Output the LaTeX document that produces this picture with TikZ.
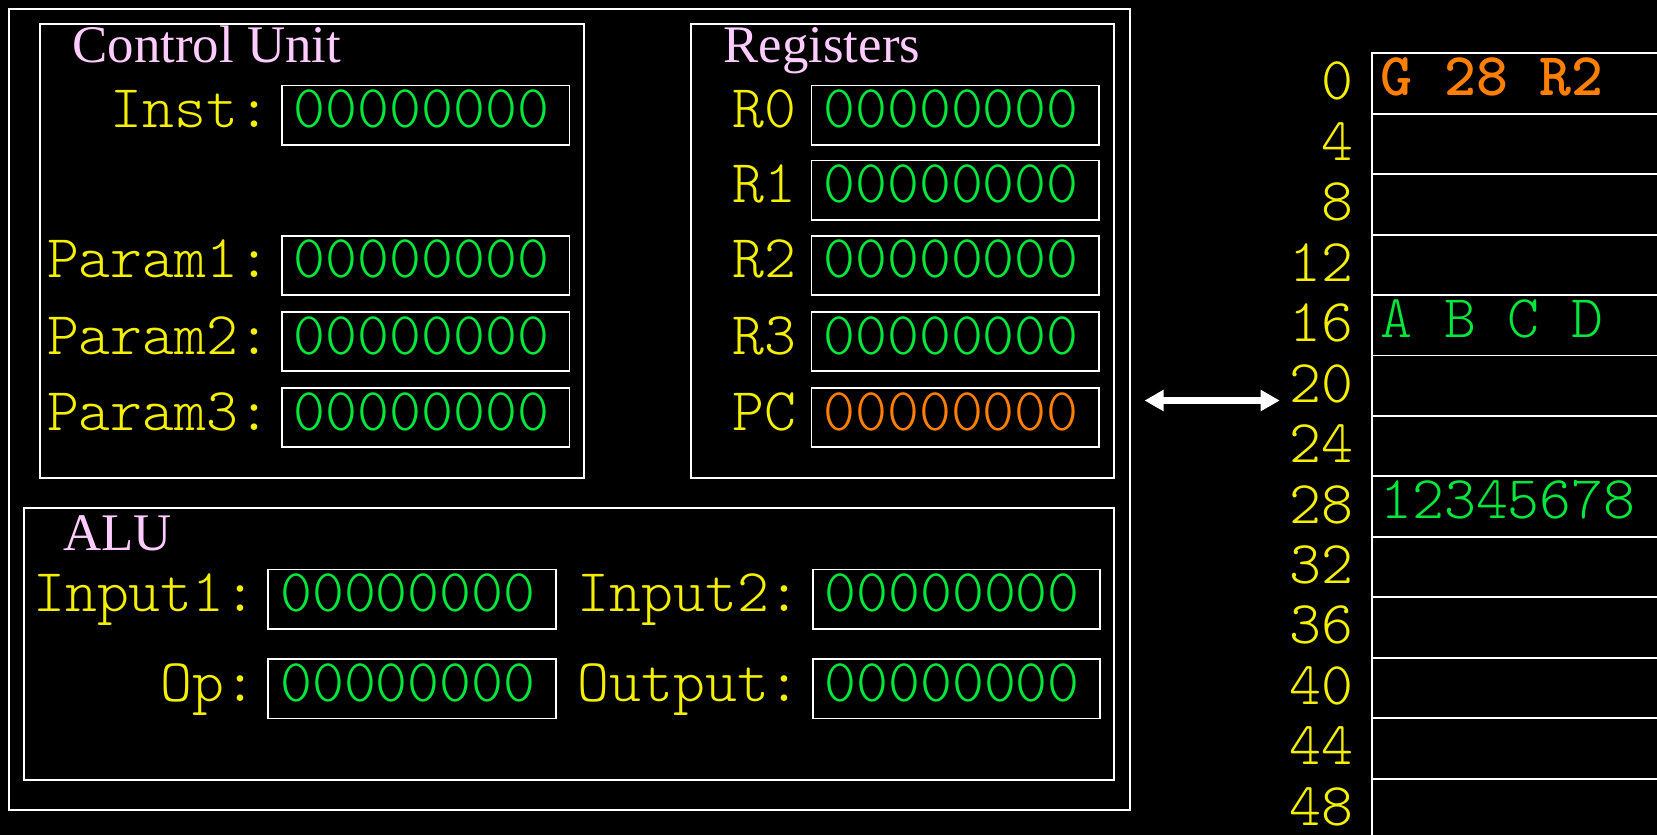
\documentclass[tikz,border=0pt]{standalone}
\usepackage{fontspec}
\setmainfont{Liberation Serif}
\setmonofont{Latin Modern Mono Light}
\usetikzlibrary{arrows.meta}
\definecolor{lblyellow}{RGB}{245,240,0}
\definecolor{valgreen}{RGB}{0,232,60}
\definecolor{valorange}{RGB}{255,128,0}
\definecolor{titlepink}{RGB}{255,204,255}
\newcommand\cpumono{\ttfamily\fontsize{57.5}{60}\selectfont}
\newcommand\cputitle{\rmfamily\fontsize{50}{56}\selectfont}
\begin{document}
\begin{tikzpicture}[x=1pt,y=-1pt,
  frame/.style={draw=white, line width=1.8pt, anchor=north west, inner sep=0pt},
  regbox/.style={draw=white, line width=1.8pt, minimum width=272pt, minimum height=56pt, anchor=north west, inner sep=0pt},
  cell/.style={draw=white, line width=1.8pt, minimum width=320pt, minimum height=57.2pt, anchor=north west, inner sep=0pt},
  lbl/.style={text=lblyellow, font=\cpumono, anchor=base east, inner sep=0pt},
  val/.style={text=valgreen, font=\cpumono, anchor=base west, inner sep=0pt},
  ttl/.style={text=titlepink, font=\cputitle, anchor=base west, inner sep=0pt},
  busarrow/.style={draw=white, line width=6pt, {Triangle[length=18pt,width=19pt]}-{Triangle[length=18pt,width=19pt]}},
]
\fill[black] (0,0) rectangle (1568,790);
\useasboundingbox (0,0) rectangle (1568,790);

% outer CPU frame and sections
\node[frame, minimum width=1060pt, minimum height=758pt] (cpu) at (8,8) {};
\node[frame, minimum width=515pt, minimum height=429pt] (cu) at (37,22) {};
\node[frame, minimum width=400pt, minimum height=429pt] (regs) at (653,22) {};
\node[frame, minimum width=1031pt, minimum height=257pt] (alu) at (22,480) {};

\node[ttl] (cutitle) at (68.5,59) {Control Unit};
\node[ttl] (regtitle) at (684.5,59) {Registers};
\node[ttl] (alutitle) at (59.5,521) {ALU};

% control unit
\foreach \nm/\lab/\y in {inst/Inst:/80, pa/Param1:/222, pb/Param2:/294, pc/Param3:/366}{
  \node[regbox] (\nm) at (266,\y) {};
  \node[lbl] (\nm-l) at (256,\y+41) {\lab};
  \node[val] (\nm-v) at (278,\y+41) {00000000};
}

% registers
\foreach \nm/\lab/\y in {r0/R0/80, r1/R1/151, r2/R2/222, r3/R3/294}{
  \node[regbox] (\nm) at (767,\y) {};
  \node[lbl] (\nm-l) at (754,\y+41) {\lab};
  \node[val] (\nm-v) at (779,\y+41) {00000000};
}
\node[regbox] (pcr) at (767,366) {};
\node[lbl] (pcr-l) at (754,407) {PC};
\node[val, text=valorange] (pcr-v) at (779,407) {00000000};

% ALU
\foreach \nm/\lab/\x/\y in {in1/Input1:/253/538, in2/Input2:/768/538, op/Op:/253/623, out/Output:/768/623}{
  \node[regbox] (\nm) at (\x,\y) {};
  \node[lbl] (\nm-l) at (\x-10,\y+41) {\lab};
  \node[val] (\nm-v) at (\x+12,\y+41) {00000000};
}

% memory
\foreach \i in {0,...,12}{
  \pgfmathtruncatemacro\addr{4*\i}
  \node[cell] (m\i) at (1297,49.5+57.2*\i) {};
  \node[lbl] (a\i) at (1281,49.5+57.2*\i+28.6+16.5) {\addr};
}
\node[val, text=valorange, font=\cpumono\bfseries] (m0-v) at (1306,49.5+28.6+12.5) {G 28 R2};
\node[val] (m4-v) at (1306,49.5+57.2*4+28.6+12.5) {A B C D};
\node[val] (m7-v) at (1306,49.5+57.2*7+28.6+12.5) {12345678};

% bus arrow between CPU and memory
\coordinate (busL) at (1083,379);
\coordinate (busR) at (1211,379);
\draw[busarrow] (busL) -- (busR);
\end{tikzpicture}
\end{document}
